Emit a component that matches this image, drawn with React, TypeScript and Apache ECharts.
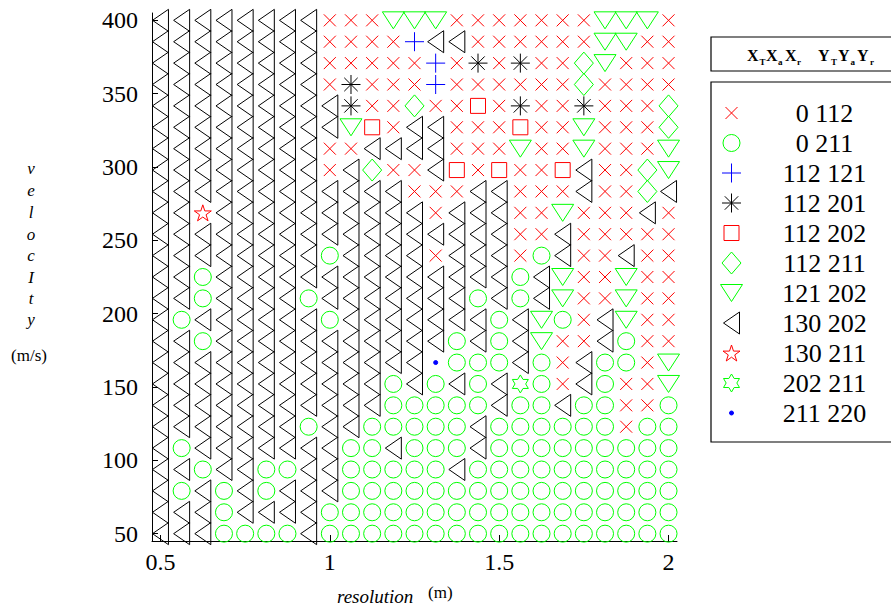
import React, { useEffect, useRef } from 'react';
import * as echarts from 'echarts';

// Grid of the classification map: resolution (m) columns, velocity (m/s) rows
const resolutionValues = [
  0.5, 0.5625, 0.625, 0.6875, 0.75, 0.8125, 0.875, 0.9375, 1, 1.0625, 1.125, 1.1875, 1.25,
  1.3125, 1.375, 1.4375, 1.5, 1.5625, 1.625, 1.6875, 1.75, 1.8125, 1.875, 1.9375, 2,
];
// top row first
const velocityValues = [
  400, 385.42, 370.83, 356.25, 341.67, 327.08, 312.5, 297.92, 283.33, 268.75, 254.17, 239.58,
  225, 210.42, 195.83, 181.25, 166.67, 152.08, 137.5, 122.92, 108.33, 93.75, 79.17, 64.58, 50,
];

// class code of each cell (x:0 112, o:0 211, p:112 121, s:112 201, q:112 202, d:112 211,
// v:121 202, t:130 202, a:130 211, h:202 211, b:211 220), groups of five columns
const classRows = [
  'ttttt tttxx xvvvx xxxxx xvvvx',
  'ttttt tttxx xxptt xxxxx xvvxx',
  'ttttt tttxx xxxpx sxsxx dvxxx',
  'ttttt tttxs xxxpx xxxxx dxxxx',
  'ttttt tttts xxdxx qxsxx sxxxd',
  'ttttt ttttv qxttx xxqxx vxxxd',
  'ttttt tttxx ttttx xxvxx vxxxv',
  'ttttt tttxt dxxtq xqxxq txxdv',
  'ttttt ttttt ttxxx ttxxx txxdt',
  'ttatt ttttt tttxt ttxxv xxxtx',
  'ttttt ttttt ttttt ttxxt xxxxx',
  'ttttt tttot tttxt ttxot xxtxx',
  'ttott ttttt ttttt ttotv xxvxx',
  'ttott ttott ttttt ototv xxvxx',
  'tottt tttot ttttt totvo xtvxx',
  'ttott ttttt tttto totvx xtoxx',
  'ttttt ttttt tttbo ootox tooxv',
  'ttttt ttttt totot othox toxxv',
  'ttttt ttttt toooo otoot ooxxo',
  'ttttt ttott ooooo toooo ooxoo',
  'tottt tttto otooo toooo ooooo',
  'ttott ootto oooot ooooo ooooo',
  'totot ottto ooooo ooooo ooooo',
  'tttot tttoo ooooo ooooo ooooo',
  'tttoo ootoo ooooo ooooo ooooo',
];

const classCodes = ['x', 'o', 'p', 's', 'q', 'd', 'v', 't', 'a', 'h', 'b'];
const classLabels = [
  '0 112', '0 211', '112 121', '112 201', '112 202', '112 211',
  '121 202', '130 202', '130 211', '202 211', '211 220',
];

const xTickValues = [0.5, 1, 1.5, 2];
const yTickValues = [50, 100, 150, 200, 250, 300, 350, 400];
const yNameLetters = ['v', 'e', 'l', 'o', 'c', 'I', 't', 'y'];

const FONT = '"Liberation Serif", "Times New Roman", serif';
const FRAME = 'M0,0M24,24';
const MARKERS: Record<string, { path: string; stroke: string; fill: string }> = {
  x: { path: FRAME + 'M6,6L18,18M18,6L6,18', stroke: '#ff0000', fill: 'none' },
  o: { path: FRAME + 'M3.5,12A8.5,8.5,0,1,1,20.5,12A8.5,8.5,0,1,1,3.5,12Z', stroke: '#00ff00', fill: 'none' },
  p: { path: FRAME + 'M12,2.5L12,21.5M2.5,12L21.5,12', stroke: '#0000ff', fill: 'none' },
  s: { path: FRAME + 'M12,2.5L12,21.5M2.5,12L21.5,12M5.3,5.3L18.7,18.7M18.7,5.3L5.3,18.7', stroke: '#000000', fill: 'none' },
  q: { path: FRAME + 'M4.5,4.5L19.5,4.5L19.5,19.5L4.5,19.5Z', stroke: '#ff0000', fill: 'none' },
  d: { path: FRAME + 'M12,1L21.5,12L12,23L2.5,12Z', stroke: '#00ff00', fill: 'none' },
  v: { path: FRAME + 'M1,3.5L23,3.5L12,20.5Z', stroke: '#00ff00', fill: 'none' },
  t: { path: FRAME + 'M4,12L20,1L20,23Z', stroke: '#000000', fill: 'none' },
  a: { path: FRAME + 'M12,4L14,10.1L20.5,10.1L15.25,13.9L17.25,20L12,16.2L6.75,20L8.75,13.9L3.5,10.1L10,10.1Z', stroke: '#ff0000', fill: 'none' },
  h: { path: FRAME + 'M12,3L14.67,7.5L20,7.5L17.33,12L20,16.5L14.67,16.5L12,21L9.33,16.5L4,16.5L6.67,12L4,7.5L9.33,7.5Z', stroke: '#00ff00', fill: 'none' },
  b: { path: FRAME + 'M10,12A2,2,0,1,1,14,12A2,2,0,1,1,10,12Z', stroke: '#0000ff', fill: '#0000ff' },
};

function buildSeries() {
  return classCodes.map((code, k) => {
    const data: number[][] = [];
    classRows.forEach((row, r) => {
      const cells = row.replace(/ /g, '');
      for (let c = 0; c < cells.length; c++) {
        if (cells[c] === code) data.push([resolutionValues[c], velocityValues[r]]);
      }
    });
    const m = MARKERS[code];
    return {
      type: 'scatter',
      name: classLabels[k],
      symbol: 'path://' + m.path,
      symbolSize: 24,
      itemStyle: { color: m.fill, borderColor: m.stroke, borderWidth: 1, opacity: 1 },
      data,
      silent: true,
      emphasis: { disabled: true },
    };
  });
}

function buildGraphic() {
  const els: any[] = [];
  els.push({
    type: 'rect',
    shape: { x: 711, y: 37, width: 240, height: 34 },
    style: { fill: 'none', stroke: '#000', lineWidth: 1.2 },
    silent: true,
  });
  els.push({
    type: 'rect',
    shape: { x: 711, y: 82, width: 240, height: 360 },
    style: { fill: 'none', stroke: '#000', lineWidth: 1.2 },
    silent: true,
  });
  const mains: [string, number][] = [['X', 747], ['X', 766], ['X', 785], ['Y', 818], ['Y', 838], ['Y', 857]];
  const subs: [string, number][] = [['T', 759.5], ['a', 778], ['r', 797], ['T', 831], ['a', 850.5], ['r', 870]];
  mains.forEach(([t, x]) =>
    els.push({
      type: 'text', x, y: 55.5, silent: true,
      style: { text: t, fontFamily: FONT, fontSize: 16, fontWeight: 'bold', fill: '#000', align: 'left', verticalAlign: 'middle' },
    }),
  );
  subs.forEach(([t, x]) =>
    els.push({
      type: 'text', x, y: 62, silent: true,
      style: { text: t, fontFamily: FONT, fontSize: 9, fontWeight: 'bold', fill: '#000', align: 'left', verticalAlign: 'middle' },
    }),
  );
  const letterY = [168, 190, 212, 234, 255, 277, 298, 319];
  yNameLetters.forEach((ch, i) =>
    els.push({
      type: 'text', x: 31, y: letterY[i], silent: true,
      style: { text: ch, fontFamily: FONT, fontSize: 17, fontStyle: 'italic', fill: '#000', align: 'center', verticalAlign: 'middle' },
    }),
  );
  els.push({
    type: 'text', x: 29, y: 355, silent: true,
    style: { text: '(m/s)', fontFamily: FONT, fontSize: 17, fill: '#000', align: 'center', verticalAlign: 'middle' },
  });
  els.push({
    type: 'text', x: 337, y: 596, silent: true,
    style: { text: 'resolution', fontFamily: FONT, fontSize: 19, fontStyle: 'italic', fill: '#000', align: 'left', verticalAlign: 'middle' },
  });
  els.push({
    type: 'text', x: 428, y: 592, silent: true,
    style: { text: '(m)', fontFamily: FONT, fontSize: 17, fill: '#000', align: 'left', verticalAlign: 'middle' },
  });
  return els;
}

function buildOption() {
  const axisCommon = {
    type: 'value',
    axisLine: { show: true, onZero: false, lineStyle: { color: '#000', width: 1 } },
    splitLine: { show: false },
  };
  return {
    animation: false,
    backgroundColor: '#fff',
    grid: { left: 152, top: 13, width: 525, height: 528, containLabel: false, outerBoundsMode: 'none' },
    xAxis: {
      ...axisCommon,
      min: 0.475,
      max: 2.025,
      axisTick: { show: true, inside: true, length: 6, customValues: xTickValues, lineStyle: { color: '#000' } },
      axisLabel: { customValues: xTickValues, fontFamily: FONT, fontSize: 24, color: '#000', margin: 9 },
    },
    yAxis: {
      ...axisCommon,
      min: 45,
      max: 405,
      axisTick: { show: true, inside: true, length: 6, customValues: yTickValues, lineStyle: { color: '#000' } },
      axisLabel: { customValues: yTickValues, fontFamily: FONT, fontSize: 24, color: '#000', margin: 14 },
    },
    legend: {
      show: true,
      orient: 'vertical',
      left: 711,
      top: 82,
      padding: [16, 20, 14, 6],
      itemWidth: 24,
      itemHeight: 24,
      itemGap: 0,
      borderWidth: 0,
      selectedMode: false,
      itemStyle: { borderWidth: 1 },
      data: classLabels,
      formatter: '{n|{name}}',
      textStyle: {
        color: '#000',
        fontFamily: FONT,
        fontSize: 26,
        rich: {
          n: { width: 152, height: 30, lineHeight: 30, align: 'center', fontFamily: FONT, fontSize: 26, color: '#000' },
        },
      },
    },
    graphic: buildGraphic(),
    series: buildSeries(),
  };
}

export default function App() {
  const ref = useRef<HTMLDivElement>(null);
  useEffect(() => {
    if (!ref.current) return;
    const chart = echarts.init(ref.current, undefined, { renderer: 'svg' });
    chart.setOption(buildOption() as any);
    return () => {
      chart.dispose();
    };
  }, []);
  return (
    <div
      ref={ref}
      style={{ position: 'absolute', left: 0, top: 0, width: 891, height: 609, background: '#fff' }}
    />
  );
}
